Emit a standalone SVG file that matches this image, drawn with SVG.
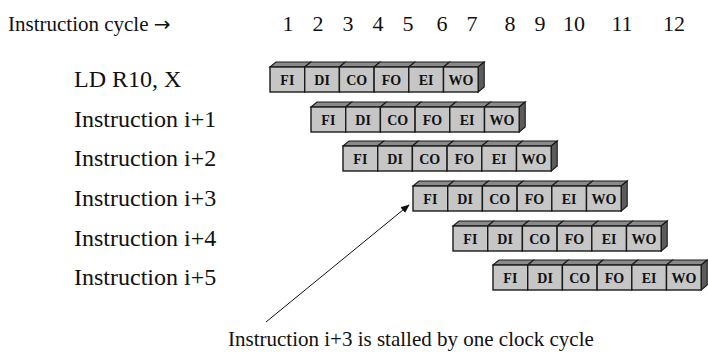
<svg xmlns="http://www.w3.org/2000/svg" xmlns:xlink="http://www.w3.org/1999/xlink" width="708" height="359" viewBox="0 0 708 359">
  <style>
    .lbl { font-family: "Liberation Serif", "Times New Roman", serif; font-size: 24px; fill: #111; }
    .hdr { font-family: "Liberation Serif", "Times New Roman", serif; font-size: 21px; fill: #111; }
    .num { font-family: "Liberation Serif", "Times New Roman", serif; font-size: 22px; fill: #111; text-anchor: middle; }
    .note { font-family: "Liberation Serif", "Times New Roman", serif; font-size: 21px; fill: #111; }
    .stg { font-family: "Liberation Serif", "Times New Roman", serif; font-size: 14px; font-weight: bold; fill: #111; text-anchor: middle; }
    .front { fill: #c6c6c6; stroke: #1a1a1a; stroke-width: 1.4; }
    .top { fill: #8a8a8a; stroke: #1a1a1a; stroke-width: 1.1; }
    .side { fill: #5c5c5c; stroke: #1a1a1a; stroke-width: 1.1; }
    .conn { stroke: #111; stroke-width: 1; fill: none; }
  </style>
  <defs>
    <!-- six-stage pipeline strip; origin at top-left of the front face -->
    <g id="strip">
      <polygon class="top" points="0,0 6,-5 40.7,-5 34.7,0"/>
      <polygon class="top" points="34.7,0 40.7,-5 75.4,-5 69.4,0"/>
      <polygon class="top" points="69.4,0 75.4,-5 110.1,-5 104.1,0"/>
      <polygon class="top" points="104.1,0 110.1,-5 144.8,-5 138.8,0"/>
      <polygon class="top" points="138.8,0 144.8,-5 179.5,-5 173.5,0"/>
      <polygon class="top" points="173.5,0 179.5,-5 214.2,-5 208.2,0"/>
      <polygon class="side" points="208.2,0 214.2,-5 214.2,20 208.2,25"/>
      <rect class="front" x="0" y="0" width="34.7" height="25"/>
      <rect class="front" x="34.7" y="0" width="34.7" height="25"/>
      <rect class="front" x="69.4" y="0" width="34.7" height="25"/>
      <rect class="front" x="104.1" y="0" width="34.7" height="25"/>
      <rect class="front" x="138.8" y="0" width="34.7" height="25"/>
      <rect class="front" x="173.5" y="0" width="34.7" height="25"/>
      <text class="stg" x="17.35" y="17.5">FI</text>
      <text class="stg" x="52.05" y="17.5">DI</text>
      <text class="stg" x="86.75" y="17.5">CO</text>
      <text class="stg" x="121.45" y="17.5">FO</text>
      <text class="stg" x="156.15" y="17.5">EI</text>
      <text class="stg" x="190.85" y="17.5">WO</text>
    </g>
    <marker id="arrow" viewBox="0 0 10 10" refX="9" refY="5" markerWidth="9" markerHeight="9" orient="auto" markerUnits="userSpaceOnUse">
      <path d="M0,1 L10,5 L0,9 z" fill="#111"/>
    </marker>
  </defs>

  <!-- header -->
  <g id="header">
    <text class="hdr" x="8" y="31">Instruction cycle <tspan font-family="DejaVu Sans, sans-serif" font-size="20">→</tspan></text>
    <text class="num" x="288" y="31">1</text>
    <text class="num" x="318" y="31">2</text>
    <text class="num" x="348" y="31">3</text>
    <text class="num" x="378" y="31">4</text>
    <text class="num" x="408" y="31">5</text>
    <text class="num" x="442" y="31">6</text>
    <text class="num" x="472" y="31">7</text>
    <text class="num" x="510" y="31">8</text>
    <text class="num" x="540" y="31">9</text>
    <text class="num" x="574" y="31">10</text>
    <text class="num" x="622" y="31">11</text>
    <text class="num" x="674" y="31">12</text>
  </g>

  <!-- instruction rows -->
  <g id="row-ld">
    <text class="lbl" x="74" y="87">LD R10, X</text>
    <use xlink:href="#strip" href="#strip" x="270" y="67"/>
  </g>
  <g id="row-i1">
    <text class="lbl" x="74" y="127">Instruction i+1</text>
    <use xlink:href="#strip" href="#strip" x="311" y="107"/>
  </g>
  <g id="row-i2">
    <text class="lbl" x="74" y="166">Instruction i+2</text>
    <use xlink:href="#strip" href="#strip" x="343" y="146"/>
  </g>
  <g id="row-i3">
    <text class="lbl" x="74" y="206">Instruction i+3</text>
    <use xlink:href="#strip" href="#strip" x="413" y="186"/>
  </g>
  <g id="row-i4">
    <text class="lbl" x="74" y="246">Instruction i+4</text>
    <use xlink:href="#strip" href="#strip" x="453" y="226"/>
  </g>
  <g id="row-i5">
    <text class="lbl" x="74" y="285">Instruction i+5</text>
    <use xlink:href="#strip" href="#strip" x="493" y="265"/>
  </g>

  <!-- stall note -->
  <g id="note">
    <text class="note" x="228" y="346">Instruction i+3 is stalled by one clock cycle</text>
  </g>

  <g id="connectors">
    <line class="conn" x1="266" y1="322" x2="409" y2="205" marker-end="url(#arrow)"/>
  </g>
</svg>
